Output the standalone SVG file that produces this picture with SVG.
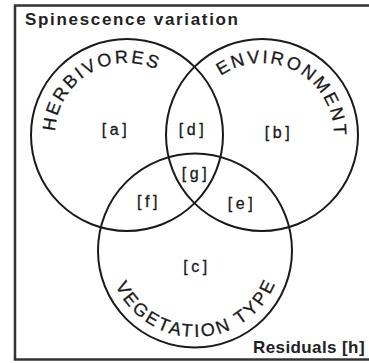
<svg xmlns="http://www.w3.org/2000/svg" width="369" height="363" viewBox="0 0 369 363">
<style>
.c{fill:none;stroke:#1a1a1a;stroke-width:2}
.arc{font-family:"Liberation Sans",Arial,sans-serif;font-size:18px;fill:#1a1a1a;stroke:#1a1a1a;stroke-width:0.3}
.lab{font-family:"Liberation Sans",Arial,sans-serif;font-size:16px;fill:#1a1a1a;stroke:#1a1a1a;stroke-width:0.3;text-anchor:middle;letter-spacing:3.5px}
.ttl{font-family:"Liberation Sans",Arial,sans-serif;font-weight:bold;fill:#222}
</style>
<defs>
<path id="pH" d="M59.67,160.51 A72,72 0 0 1 181.55,88"/>
<path id="pE" d="M205.65,90.18 A72,72 0 0 1 330.28,157.85"/>
<path id="pV" d="M109.67,266.97 A87,87 0 0 0 280.99,263.23"/>
</defs>
<rect width="369" height="363" fill="#fff"/>
<g id="frame" stroke="#333" stroke-width="2.5" fill="none">
<path d="M15,359.5 V5.5 H369"/>
<path d="M13.8,359.5 H369"/>
</g>
<text class="ttl" x="25" y="25" font-size="17" textLength="213" lengthAdjust="spacing">Spinescence variation</text>
<g id="herbivores">
<circle class="c" cx="127" cy="135" r="96"/>
<text class="arc" letter-spacing="2.4"><textPath href="#pH" startOffset="50%" text-anchor="middle">HERBIVORES</textPath></text>
</g>
<g id="environment">
<circle class="c" cx="262" cy="135" r="96"/>
<text class="arc" letter-spacing="2.4"><textPath href="#pE" startOffset="50%" text-anchor="middle">ENVIRONMENT</textPath></text>
</g>
<g id="vegetation">
<circle class="c" cx="195" cy="250.5" r="97"/>
<text class="arc" letter-spacing="2.6"><textPath href="#pV" startOffset="50%" text-anchor="middle">VEGETATION TYPE</textPath></text>
</g>
<g id="labels">
<text class="lab" x="116" y="135">[a]</text>
<text class="lab" x="193" y="135">[d]</text>
<text class="lab" x="279" y="138">[b]</text>
<text class="lab" x="196" y="179">[g]</text>
<text class="lab" x="149" y="207">[f]</text>
<text class="lab" x="242" y="209">[e]</text>
<text class="lab" x="197" y="272">[c]</text>
</g>
<text class="ttl" x="253" y="353" font-size="17" letter-spacing="0.4">Residuals [h]</text>
</svg>
